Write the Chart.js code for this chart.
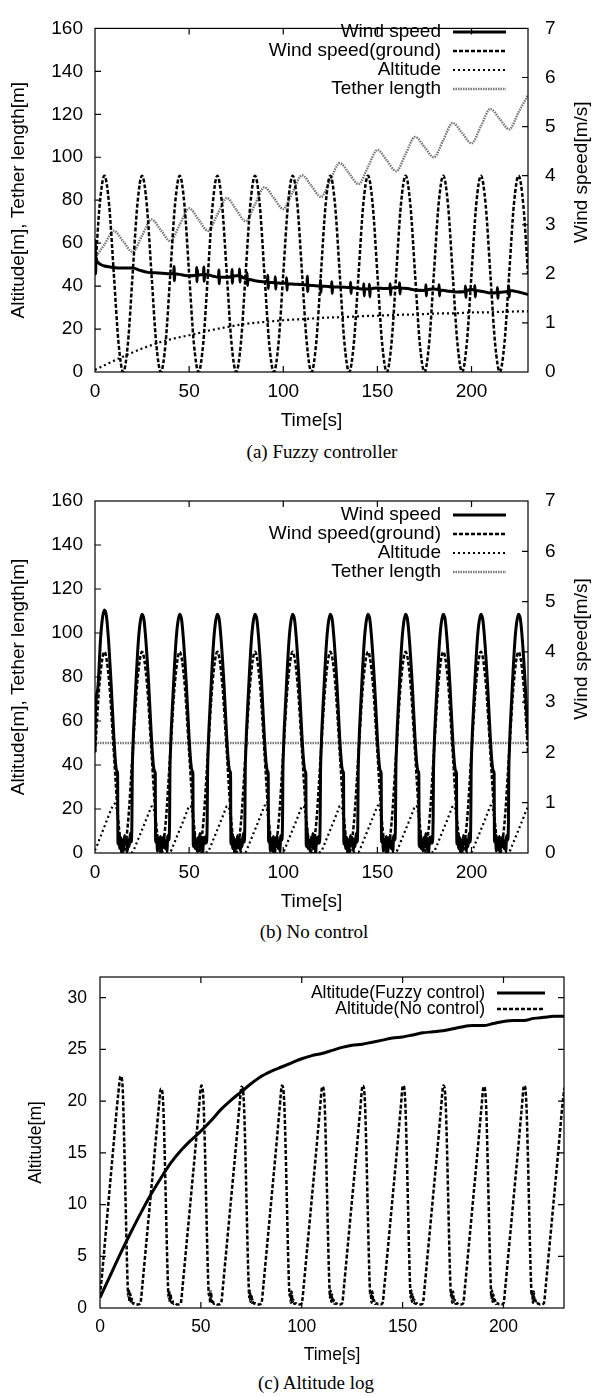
<!DOCTYPE html>
<html>
<head>
<meta charset="utf-8">
<script src="https://cdn.jsdelivr.net/npm/chart.js@4.4.1/dist/chart.umd.min.js"></script>
<style>
html,body{margin:0;padding:0;background:#fff;}
#wrap{position:relative;width:592px;height:1396px;background:#fff;overflow:hidden;}
canvas{position:absolute;left:0;display:block;}
.cap{position:absolute;transform:translateX(-50%);font-family:"Liberation Serif","DejaVu Serif",serif;font-size:19px;line-height:20px;color:#000;white-space:nowrap;}
</style>
</head>
<body>
<div id="wrap">
<canvas id="c1" width="592" height="440" style="top:0px"></canvas>
<div class="cap" style="top:442px;left:322px">(a) Fuzzy controller</div>
<canvas id="c2" width="592" height="460" style="top:460px"></canvas>
<div class="cap" style="top:922px;left:314px">(b) No control</div>
<canvas id="c3" width="592" height="430" style="top:940px"></canvas>
<div class="cap" style="top:1373px;left:316px">(c) Altitude log</div>
</div>
<script>
// ---------------- DATA ----------------
const xTickLabels = [0, 50, 100, 150, 200];

const T25 = [0,2.5,5,7.5,10,12.5,15,17.5,20,22.5,25,27.5,30,32.5,35,37.5,40,42.5,45,47.5,50,52.5,55,57.5,60,62.5,65,67.5,70,72.5,75,77.5,80,82.5,85,87.5,90,92.5,95,97.5,100,102.5,105,107.5,110,112.5,115,117.5,120,122.5,125,127.5,130,132.5,135,137.5,140,142.5,145,147.5,150,152.5,155,157.5,160,162.5,165,167.5,170,172.5,175,177.5,180,182.5,185,187.5,190,192.5,195,197.5,200,202.5,205,207.5,210,212.5,215,217.5,220,222.5,225,227.5,230];

// ground wind speed [m/s]
const groundWind = [2,3.41,4,3.41,2,0.59,0,0.59, 2,3.41,4,3.41,2,0.59,0,0.59, 2,3.41,4,3.41,2,0.59,0,0.59, 2,3.41,4,3.41,2,0.59,0,0.59,
 2,3.41,4,3.41,2,0.59,0,0.59, 2,3.41,4,3.41,2,0.59,0,0.59, 2,3.41,4,3.41,2,0.59,0,0.59, 2,3.41,4,3.41,2,0.59,0,0.59,
 2,3.41,4,3.41,2,0.59,0,0.59, 2,3.41,4,3.41,2,0.59,0,0.59, 2,3.41,4,3.41,2,0.59,0,0.59, 2,3.41,4,3.41,2];

const T5 = [0,5,10,15,20,25,30,35,40,45,50,55,60,65,70,75,80,85,90,95,100,105,110,115,120,125,130,135,140,145,150,155,160,165,170,175,180,185,190,195,200,205,210,215,220,225,230];

// tether length, fuzzy controller [m]
const tetherFuzzy = [53,59.4,65.7,60.8,55.9,63.5,71,66,60.9,68.6,76.2,71,65.7,73.4,81,75.6,70.2,78.1,86,81,75.9,83.8,91.6,86.6,81.5,89.4,97.3,92.4,87.5,95.5,103.4,98.5,93.5,101.5,109.5,104.8,100,108,116,111.3,106.5,114.5,122.5,117.8,113,121,129];

// altitude, fuzzy controller [m]
const altFuzzy = [1.0,3.1,5.2,7.2,9.1,10.9,12.5,14.0,15.2,16.2,17.1,18.1,19.2,20.1,20.9,21.7,22.4,22.9,23.3,23.7,24.1,24.4,24.6,24.9,25.2,25.4,25.5,25.7,25.9,26.1,26.2,26.4,26.6,26.7,26.8,27.0,27.2,27.3,27.3,27.5,27.7,27.8,27.8,28.0,28.1,28.2,28.2];

// wind speed at kite, fuzzy controller [m/s]
const windFuzzyT = [0,0.15,0.3,0.6,1,2,3,5,8,12,16,20,24,28,32,36,40,
41.8,42,42.2,42.4,46,50,
53.8,54,54.2,54.4,54.6,56,
57.6,57.8,58,58.2,60,63,
65.6,65.8,66,66.2,69,
72.6,72.8,73,73.2,75,
76.6,76.8,77,77.2,79,
80.6,80.8,81,81.2,85,89,
91.6,91.8,92,92.2,
95.6,95.8,96,96.2,99,
101.6,101.8,102,102.2,106,110,
112.6,112.8,113,113.2,116,
119.6,119.8,120,120.2,124,
125.6,125.8,126,126.2,130,
135.6,135.8,136,136.2,140,
142.6,142.8,143,143.2,
145.6,145.8,146,146.2,150,154,
156.6,156.8,157,157.2,160,
161.6,161.8,162,162.2,166,170,
175.6,175.8,176,176.2,180,
182.6,182.8,183,183.2,187,192,
196.6,196.8,197,197.2,200,
201.6,201.8,202,202.2,206,210,
213.6,213.8,214,214.2,217,
219.6,219.8,220,220.2,225,230];
const windFuzzyV = [2.02,2.68,2.0,2.33,2.26,2.22,2.19,2.16,2.14,2.12,2.12,2.12,2.07,2.03,2.02,2.01,2.0,
2.0,2.15,1.86,2.0,1.98,1.96,
1.97,2.13,1.84,2.08,1.97,1.98,
1.99,2.14,1.85,1.99,1.98,1.95,
1.93,2.08,1.8,1.93,1.93,
1.94,2.09,1.81,1.95,1.96,
1.96,2.1,1.83,1.95,1.92,
1.9,2.02,1.76,1.89,1.86,1.84,
1.84,1.97,1.7,1.83,
1.82,1.94,1.69,1.82,1.81,
1.81,1.92,1.67,1.8,1.79,1.78,
1.77,1.95,1.64,1.77,1.76,
1.75,1.87,1.62,1.75,1.74,
1.73,1.84,1.6,1.73,1.73,
1.72,1.83,1.6,1.72,1.7,
1.69,1.8,1.55,1.69,
1.69,1.79,1.53,1.69,1.71,1.7,
1.7,1.8,1.57,1.7,1.72,
1.72,1.82,1.59,1.71,1.7,1.67,
1.66,1.78,1.55,1.67,1.69,
1.68,1.78,1.55,1.67,1.65,1.63,
1.64,1.75,1.52,1.64,1.68,
1.67,1.76,1.53,1.66,1.64,1.61,
1.62,1.72,1.5,1.62,1.63,
1.65,1.75,1.53,1.66,1.63,1.58];

// wind speed at kite, no control [m/s]
const windNoCtrlT = [
0,0.2,1.5,3,4,5,6,7,8.5,10,11,11.8,12,12.2,12.7,13.2,13.7,14.2,14.7,15.2,15.7,16.2,16.7,17.2,17.7,18.2,18.7,19.2,19.6,19.8,
20,21.5,23,24,25,26,27,28.5,30,31,31.8,32,32.2,32.7,33.2,33.7,34.2,34.7,35.2,35.7,36.2,36.7,37.2,37.7,38.2,38.7,39.2,39.6,39.8,
40,41.5,43,44,45,46,47,48.5,50,51,51.8,52,52.2,52.7,53.2,53.7,54.2,54.7,55.2,55.7,56.2,56.7,57.2,57.7,58.2,58.7,59.2,59.6,59.8,
60,61.5,63,64,65,66,67,68.5,70,71,71.8,72,72.2,72.7,73.2,73.7,74.2,74.7,75.2,75.7,76.2,76.7,77.2,77.7,78.2,78.7,79.2,79.6,79.8,
80,81.5,83,84,85,86,87,88.5,90,91,91.8,92,92.2,92.7,93.2,93.7,94.2,94.7,95.2,95.7,96.2,96.7,97.2,97.7,98.2,98.7,99.2,99.6,99.8,
100,101.5,103,104,105,106,107,108.5,110,111,111.8,112,112.2,112.7,113.2,113.7,114.2,114.7,115.2,115.7,116.2,116.7,117.2,117.7,118.2,118.7,119.2,119.6,119.8,
120,121.5,123,124,125,126,127,128.5,130,131,131.8,132,132.2,132.7,133.2,133.7,134.2,134.7,135.2,135.7,136.2,136.7,137.2,137.7,138.2,138.7,139.2,139.6,139.8,
140,141.5,143,144,145,146,147,148.5,150,151,151.8,152,152.2,152.7,153.2,153.7,154.2,154.7,155.2,155.7,156.2,156.7,157.2,157.7,158.2,158.7,159.2,159.6,159.8,
160,161.5,163,164,165,166,167,168.5,170,171,171.8,172,172.2,172.7,173.2,173.7,174.2,174.7,175.2,175.7,176.2,176.7,177.2,177.7,178.2,178.7,179.2,179.6,179.8,
180,181.5,183,184,185,186,187,188.5,190,191,191.8,192,192.2,192.7,193.2,193.7,194.2,194.7,195.2,195.7,196.2,196.7,197.2,197.7,198.2,198.7,199.2,199.6,199.8,
200,201.5,203,204,205,206,207,208.5,210,211,211.8,212,212.2,212.7,213.2,213.7,214.2,214.7,215.2,215.7,216.2,216.7,217.2,217.7,218.2,218.7,219.2,219.6,219.8,
220,221.5,223,224,225,226,227,228.5,230];
const windNoCtrlV = [
2.01,2.71,3.28,4.29,4.68,4.83,4.73,4.33,3.41,2.32,1.75,1.62,1.58,0.18,0.39,0.09,0.31,0.0,0.26,0.09,0.35,0.18,0.31,0.04,0.26,0.13,0.39,0.22,0.61,1.58,
1.93,3.19,4.20,4.59,4.75,4.64,4.24,3.37,2.28,1.75,1.62,1.58,0.22,0.35,0.04,0.28,0.09,0.33,0.0,0.3,0.13,0.35,0.09,0.22,0.04,0.35,0.26,0.57,1.58,
1.93,3.19,4.20,4.59,4.75,4.64,4.24,3.37,2.28,1.75,1.62,1.58,0.13,0.42,0.09,0.26,0.04,0.31,0.13,0.39,0.09,0.28,0.0,0.31,0.18,0.33,0.2,0.66,1.58,
1.93,3.19,4.20,4.59,4.75,4.64,4.24,3.37,2.28,1.75,1.62,1.58,0.18,0.39,0.09,0.31,0.0,0.26,0.09,0.35,0.18,0.31,0.04,0.26,0.13,0.39,0.22,0.61,1.58,
1.93,3.19,4.20,4.59,4.75,4.64,4.24,3.37,2.28,1.75,1.62,1.58,0.22,0.35,0.04,0.28,0.09,0.33,0.0,0.3,0.13,0.35,0.09,0.22,0.04,0.35,0.26,0.57,1.58,
1.93,3.19,4.20,4.59,4.75,4.64,4.24,3.37,2.28,1.75,1.62,1.58,0.13,0.42,0.09,0.26,0.04,0.31,0.13,0.39,0.09,0.28,0.0,0.31,0.18,0.33,0.2,0.66,1.58,
1.93,3.19,4.20,4.59,4.75,4.64,4.24,3.37,2.28,1.75,1.62,1.58,0.18,0.39,0.09,0.31,0.0,0.26,0.09,0.35,0.18,0.31,0.04,0.26,0.13,0.39,0.22,0.61,1.58,
1.93,3.19,4.20,4.59,4.75,4.64,4.24,3.37,2.28,1.75,1.62,1.58,0.22,0.35,0.04,0.28,0.09,0.33,0.0,0.3,0.13,0.35,0.09,0.22,0.04,0.35,0.26,0.57,1.58,
1.93,3.19,4.20,4.59,4.75,4.64,4.24,3.37,2.28,1.75,1.62,1.58,0.13,0.42,0.09,0.26,0.04,0.31,0.13,0.39,0.09,0.28,0.0,0.31,0.18,0.33,0.2,0.66,1.58,
1.93,3.19,4.20,4.59,4.75,4.64,4.24,3.37,2.28,1.75,1.62,1.58,0.18,0.39,0.09,0.31,0.0,0.26,0.09,0.35,0.18,0.31,0.04,0.26,0.13,0.39,0.22,0.61,1.58,
1.93,3.19,4.20,4.59,4.75,4.64,4.24,3.37,2.28,1.75,1.62,1.58,0.22,0.35,0.04,0.28,0.09,0.33,0.0,0.3,0.13,0.35,0.09,0.22,0.04,0.35,0.26,0.57,1.58,
1.93,3.19,4.20,4.59,4.75,4.64,4.24,3.37,2.28];

// altitude, no control [m]
const altNoCtrlT = [
0,1,2,3,4,5,6,7,8,9,10.2,10.8,11.4,12,12.6,13.2,13.7,14,14.3,14.6,15,15.4,15.8,16.3,17,18,19,
20,21,22,23,24,25,26,27,28,29,30.2,30.8,31.4,32,32.6,33.2,33.7,34,34.3,34.6,35,35.4,35.8,36.3,37,38,39,
40,41,42,43,44,45,46,47,48,49,50.2,50.8,51.4,52,52.6,53.2,53.7,54,54.3,54.6,55,55.4,55.8,56.3,57,58,59,
60,61,62,63,64,65,66,67,68,69,70.2,70.8,71.4,72,72.6,73.2,73.7,74,74.3,74.6,75,75.4,75.8,76.3,77,78,79,
80,81,82,83,84,85,86,87,88,89,90.2,90.8,91.4,92,92.6,93.2,93.7,94,94.3,94.6,95,95.4,95.8,96.3,97,98,99,
100,101,102,103,104,105,106,107,108,109,110.2,110.8,111.4,112,112.6,113.2,113.7,114,114.3,114.6,115,115.4,115.8,116.3,117,118,119,
120,121,122,123,124,125,126,127,128,129,130.2,130.8,131.4,132,132.6,133.2,133.7,134,134.3,134.6,135,135.4,135.8,136.3,137,138,139,
140,141,142,143,144,145,146,147,148,149,150.2,150.8,151.4,152,152.6,153.2,153.7,154,154.3,154.6,155,155.4,155.8,156.3,157,158,159,
160,161,162,163,164,165,166,167,168,169,170.2,170.8,171.4,172,172.6,173.2,173.7,174,174.3,174.6,175,175.4,175.8,176.3,177,178,179,
180,181,182,183,184,185,186,187,188,189,190.2,190.8,191.4,192,192.6,193.2,193.7,194,194.3,194.6,195,195.4,195.8,196.3,197,198,199,
200,201,202,203,204,205,206,207,208,209,210.2,210.8,211.4,212,212.6,213.2,213.7,214,214.3,214.6,215,215.4,215.8,216.3,217,218,219,
220,221,222,223,224,225,226,227,228,229,230.2];
const altNoCtrlV = [
1.2,3.2,5.4,7.6,9.8,12,14.2,16.4,18.6,20.6,22.4,22.2,20.5,16,11,5.8,2.3,1.1,1.8,0.6,1.4,0.5,0.9,0.4,0.45,0.35,0.35,
0.45,2.2,4.3,6.4,8.5,10.6,12.7,14.8,17.0,19.1,21.2,21.0,19.4,15.5,10.5,5.5,2.2,1.0,1.7,0.6,1.3,0.5,0.8,0.4,0.45,0.35,0.35,
0.45,2.2,4.3,6.4,8.5,10.6,12.7,14.8,17.0,19.2,21.5,21.3,19.5,15.5,10.5,5.5,2.2,1.2,1.5,0.5,1.6,0.6,0.8,0.4,0.45,0.35,0.35,
0.45,2.2,4.3,6.4,8.5,10.6,12.7,14.8,17.0,19.2,21.4,21.2,19.5,15.5,10.5,5.5,2.2,1.0,1.7,0.6,1.3,0.5,0.8,0.4,0.45,0.35,0.35,
0.45,2.2,4.3,6.4,8.5,10.6,12.7,14.8,17.0,19.2,21.5,21.3,19.5,15.5,10.5,5.5,2.2,1.2,1.5,0.5,1.6,0.6,0.8,0.4,0.45,0.35,0.35,
0.45,2.2,4.3,6.4,8.5,10.6,12.7,14.8,17.0,19.2,21.4,21.2,19.5,15.5,10.5,5.5,2.2,1.0,1.7,0.6,1.3,0.5,0.8,0.4,0.45,0.35,0.35,
0.45,2.2,4.3,6.4,8.5,10.6,12.7,14.8,17.0,19.2,21.5,21.3,19.5,15.5,10.5,5.5,2.2,1.2,1.5,0.5,1.6,0.6,0.8,0.4,0.45,0.35,0.35,
0.45,2.2,4.3,6.4,8.5,10.6,12.7,14.8,17.0,19.2,21.5,21.3,19.5,15.5,10.5,5.5,2.2,1.0,1.7,0.6,1.3,0.5,0.8,0.4,0.45,0.35,0.35,
0.45,2.2,4.3,6.4,8.5,10.6,12.7,14.8,17.0,19.2,21.5,21.3,19.5,15.5,10.5,5.5,2.2,1.2,1.5,0.5,1.6,0.6,0.8,0.4,0.45,0.35,0.35,
0.45,2.2,4.3,6.4,8.5,10.6,12.7,14.8,17.0,19.2,21.4,21.2,19.5,15.5,10.5,5.5,2.2,1.0,1.7,0.6,1.3,0.5,0.8,0.4,0.45,0.35,0.35,
0.45,2.2,4.3,6.4,8.5,10.6,12.7,14.8,17.0,19.2,21.5,21.3,19.5,15.5,10.5,5.5,2.2,1.2,1.5,0.5,1.6,0.6,0.8,0.4,0.45,0.35,0.35,
0.45,2.2,4.3,6.4,8.5,10.6,12.7,14.8,17.0,19.2,21.3];

// tether length, no control [m]
const tetherNoCtrlT = [0, 230];
const tetherNoCtrlV = [50, 50];

// ---------------- HELPERS ----------------
const FONT = "'Liberation Sans', Arial, Helvetica, sans-serif";
const pts = (T, V) => T.map((t, i) => ({x: t, y: V[i]}));

const SOLID = {borderColor: '#000', borderWidth: 3, borderDash: []};
const DASH  = {borderColor: '#000', borderWidth: 2.5, borderDash: [4, 2]};
const DOT   = {borderColor: '#000', borderWidth: 2.2, borderDash: [2, 3]};
const GRAY  = {borderColor: '#777777', borderWidth: 2.4, borderDash: [1.5, 1]};

const gnuplotLook = {
  id: 'gnuplotLook',
  afterDatasetsDraw(chart, args, o) {
    const {ctx, chartArea: a, scales} = chart;
    ctx.save();
    ctx.strokeStyle = '#000';
    ctx.lineWidth = 1.2;
    ctx.setLineDash([]);
    const L = 6;
    ctx.beginPath();
    scales.x.ticks.forEach(t => {
      const p = scales.x.getPixelForValue(t.value);
      if (p <= a.left + 1 || p >= a.right - 1) return;
      ctx.moveTo(p, a.bottom); ctx.lineTo(p, a.bottom - L);
      ctx.moveTo(p, a.top); ctx.lineTo(p, a.top + L);
    });
    scales.y.ticks.forEach(t => {
      const p = scales.y.getPixelForValue(t.value);
      if (p <= a.top + 1 || p >= a.bottom - 1) return;
      ctx.moveTo(a.left, p); ctx.lineTo(a.left + L, p);
      if (o.mirrorY) { ctx.moveTo(a.right, p); ctx.lineTo(a.right - L, p); }
    });
    if (scales.y1) {
      scales.y1.ticks.forEach(t => {
        const p = scales.y1.getPixelForValue(t.value);
        if (p <= a.top + 1 || p >= a.bottom - 1) return;
        ctx.moveTo(a.right, p); ctx.lineTo(a.right - L, p);
      });
    }
    ctx.stroke();
    ctx.strokeRect(a.left, a.top, a.right - a.left, a.bottom - a.top);

    ctx.font = o.keyFont;
    ctx.fillStyle = '#000';
    ctx.textAlign = 'right';
    ctx.textBaseline = 'middle';
    chart.data.datasets.forEach((ds, i) => {
      const y = o.y0 + i * o.dy;
      ctx.fillText(ds.label, o.textRight, y);
      ctx.beginPath();
      ctx.strokeStyle = ds.borderColor;
      ctx.lineWidth = ds.borderWidth;
      ctx.setLineDash(ds.borderDash || []);
      ctx.moveTo(o.x0, y); ctx.lineTo(o.x1, y);
      ctx.stroke();
    });
    ctx.setLineDash([]);
    if (o.rightTitle) {
      ctx.save();
      ctx.translate(o.rightTitleX, (a.top + a.bottom) / 2 + o.rightTitleDy);
      ctx.rotate(-Math.PI / 2);
      ctx.textAlign = 'center';
      ctx.textBaseline = 'middle';
      ctx.font = o.keyFont;
      ctx.fillText(o.rightTitle, 0, 0);
      ctx.restore();
    }
    ctx.restore();
  }
};

function xScale(fs, tickPad, titlePadB, h) {
  return {
    type: 'linear', min: 0, max: 230,
    afterBuildTicks: s => { s.ticks = xTickLabels.map(v => ({value: v})); },
    ticks: {stepSize: 50, includeBounds: false, padding: tickPad, color: '#000', font: {family: FONT, size: fs}, maxRotation: 0, autoSkip: false},
    grid: {display: false, drawTicks: false}, border: {display: false},
    title: {display: true, text: 'Time[s]', color: '#000', font: {family: FONT, size: fs}, padding: {top: 0, bottom: titlePadB}},
    afterFit(s) { s.height = h; }
  };
}
function yScale(pos, min, max, step, fs, tickPad, title, titlePadT, w) {
  return {
    type: 'linear', position: pos, min: min, max: max,
    ticks: {stepSize: step, includeBounds: false, padding: tickPad, color: '#000', font: {family: FONT, size: fs}, autoSkip: false},
    grid: {display: false, drawTicks: false}, border: {display: false},
    title: {display: !!title, text: title || '', color: '#000', font: {family: FONT, size: fs}, padding: {top: titlePadT, bottom: 0}},
    afterFit(s) { s.width = w; }
  };
}
const baseOpts = {
  responsive: false, animation: false, events: [],
  elements: {point: {radius: 0}, line: {cubicInterpolationMode: 'monotone', fill: false, borderCapStyle: 'butt'}}
};

// ---------------- CHART (a) ----------------
new Chart(document.getElementById('c1'), {
  type: 'line',
  data: {datasets: [
    Object.assign({label: 'Wind speed', data: pts(windFuzzyT, windFuzzyV), yAxisID: 'y1'}, SOLID),
    Object.assign({label: 'Wind speed(ground)', data: pts(T25, groundWind), yAxisID: 'y1'}, DASH),
    Object.assign({label: 'Altitude', data: pts(T5, altFuzzy), yAxisID: 'y'}, DOT),
    Object.assign({label: 'Tether length', data: pts(T5, tetherFuzzy), yAxisID: 'y'}, GRAY)
  ]},
  options: Object.assign({}, baseOpts, {
    layout: {padding: {top: 18, left: 0, right: 0, bottom: 0}},
    plugins: {legend: {display: false}, tooltip: {enabled: false},
      gnuplotLook: {keyFont: '19px ' + FONT, textRight: 441, x0: 453, x1: 506, y0: 32, dy: 19,
        rightTitle: 'Wind speed[m/s]', rightTitleX: 582, rightTitleDy: -28}},
    scales: {
      x: xScale(19, 8.5, 7.6, 68),
      y: yScale('left', 0, 160, 20, 19, 12, 'Altitude[m], Tether length[m]', 7.6, 95),
      y1: yScale('right', 0, 7, 1, 19, 17, null, 0, 64)
    }
  }),
  plugins: [gnuplotLook]
});

// ---------------- CHART (b) ----------------
new Chart(document.getElementById('c2'), {
  type: 'line',
  data: {datasets: [
    Object.assign({label: 'Wind speed', data: pts(windNoCtrlT, windNoCtrlV), yAxisID: 'y1'}, SOLID),
    Object.assign({label: 'Wind speed(ground)', data: pts(T25, groundWind), yAxisID: 'y1'}, DASH),
    Object.assign({label: 'Altitude', data: pts(altNoCtrlT, altNoCtrlV), yAxisID: 'y'}, DOT),
    Object.assign({label: 'Tether length', data: pts(tetherNoCtrlT, tetherNoCtrlV), yAxisID: 'y'}, GRAY)
  ]},
  options: Object.assign({}, baseOpts, {
    layout: {padding: {top: 41, left: 0, right: 0, bottom: 0}},
    plugins: {legend: {display: false}, tooltip: {enabled: false},
      gnuplotLook: {keyFont: '19px ' + FONT, textRight: 441, x0: 453, x1: 506, y0: 55, dy: 19,
        rightTitle: 'Wind speed[m/s]', rightTitleX: 582, rightTitleDy: -28}},
    scales: {
      x: xScale(19, 8.5, 6.6, 67),
      y: yScale('left', 0, 160, 20, 19, 12, 'Altitude[m], Tether length[m]', 7.6, 95),
      y1: yScale('right', 0, 7, 1, 19, 17, null, 0, 64)
    }
  }),
  plugins: [gnuplotLook]
});

// ---------------- CHART (c) ----------------
new Chart(document.getElementById('c3'), {
  type: 'line',
  data: {datasets: [
    Object.assign({label: 'Altitude(Fuzzy control)', data: pts(T5, altFuzzy), yAxisID: 'y'}, SOLID),
    Object.assign({label: 'Altitude(No control)', data: pts(altNoCtrlT, altNoCtrlV), yAxisID: 'y'}, DASH)
  ]},
  options: Object.assign({}, baseOpts, {
    layout: {padding: {top: 37, left: 0, right: 28, bottom: 0}},
    plugins: {legend: {display: false}, tooltip: {enabled: false},
      gnuplotLook: {keyFont: '17.5px ' + FONT, textRight: 485, x0: 497, x1: 545, y0: 53, dy: 16, mirrorY: true}},
    scales: {
      x: xScale(17.5, 9, 4.5, 62),
      y: yScale('left', 0, 32, 5, 17.5, 13, 'Altitude[m]', 25.5, 100)
    }
  }),
  plugins: [gnuplotLook]
});
</script>
</body>
</html>
